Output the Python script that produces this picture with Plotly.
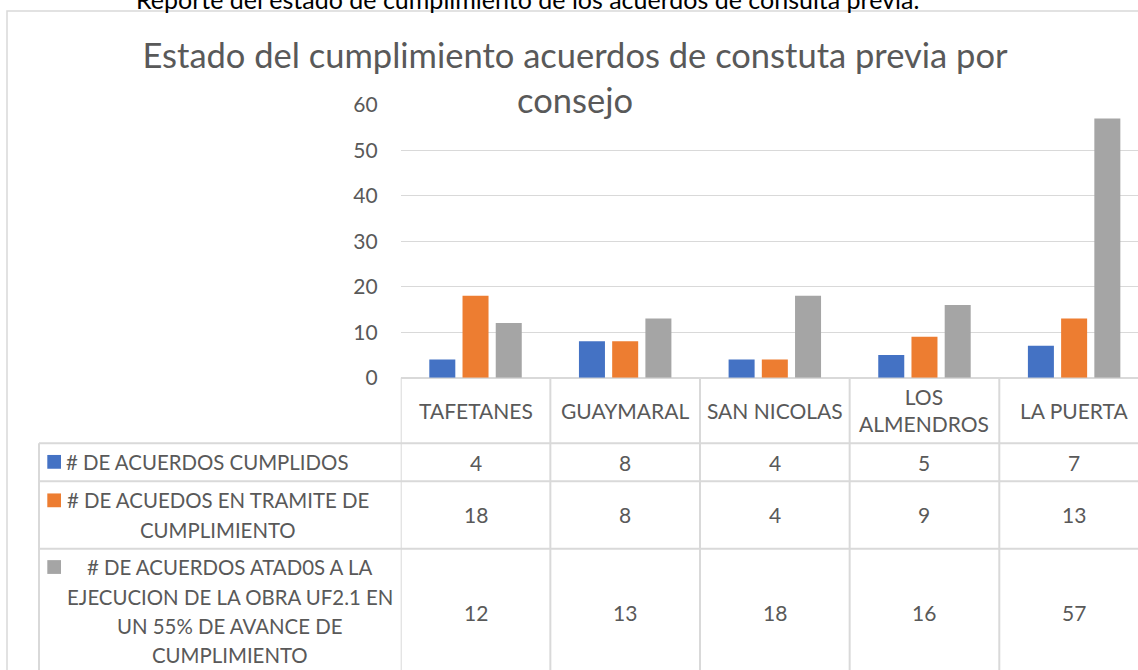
import plotly.graph_objects as go

# ---------------- data ----------------
categories = ["TAFETANES", "GUAYMARAL", "SAN NICOLAS", "LOS ALMENDROS", "LA PUERTA"]
category_labels = ["TAFETANES", "GUAYMARAL", "SAN NICOLAS", "LOS<br>ALMENDROS", "LA PUERTA"]

cumplidos = [4, 8, 4, 5, 7]
en_tramite = [18, 8, 4, 9, 13]
atados_obra = [12, 13, 18, 16, 57]

series_names = [
    "# DE ACUERDOS CUMPLIDOS",
    "# DE ACUEDOS EN TRAMITE DE CUMPLIMIENTO",
    "# DE ACUERDOS ATAD0S A LA EJECUCION DE LA OBRA UF2.1 EN UN 55% DE AVANCE DE CUMPLIMIENTO",
]
series_table_lines = [
    ["# DE ACUERDOS CUMPLIDOS"],
    ["# DE ACUEDOS EN TRAMITE DE", "CUMPLIMIENTO"],
    ["# DE ACUERDOS ATAD0S A LA", "EJECUCION DE LA OBRA UF2.1 EN", "UN 55% DE AVANCE DE", "CUMPLIMIENTO"],
]
series_values = [cumplidos, en_tramite, atados_obra]
series_colors = ["#4472C4", "#ED7D31", "#A5A5A5"]

y_ticks = [0, 10, 20, 30, 40, 50, 60]

title_text = "Estado del cumplimiento acuerdos de constuta previa por<br>consejo"
heading_text = "Reporte del estado de cumplimiento de los acuerdos de consulta previa."

# ---------------- layout helpers ----------------
W, H = 1138, 670
# vertical calibration of the photographed page (measured)
OFF, SC = 13.5, 0.963

def px_x(p):
    return p / W

def px_y(s):
    f = (s - OFF) / SC
    return 1 - f / H

FONT = "Lato, 'Open Sans', sans-serif"
TXT = "#595959"
LINE = "#D9D9D9"

plot_left = 400.7
col_w = 149.65
y0_px, y60_px = 377.3, 104.3
x_range = [-0.5, -0.5 + (W - plot_left) / col_w]

xs = list(range(len(categories)))

fig = go.Figure()
for name, vals, col in zip(series_names, series_values, series_colors):
    fig.add_trace(go.Bar(x=xs, y=vals, name=name, marker=dict(color=col, line=dict(width=0)),
                         hovertext=categories, showlegend=False))

# table geometry (pixels)
table_left = 39
row_lines = [443, 481, 548.3]
row_centers = [462, 514.6, 611.7]
row_first_line = [461.5, 500, 566.7]
row_text_center_x = [207, 218, 229.5]
line_step = 29.5
header_center = 410
bottom = 720

shapes = []
# chart border
shapes.append(dict(type="rect", xref="paper", yref="paper",
                   x0=px_x(7), x1=px_x(W + 20), y0=px_y(H + 40), y1=px_y(10.5),
                   line=dict(color=LINE, width=1.5), fillcolor="rgba(0,0,0,0)", layer="below"))
# horizontal table lines
for r in row_lines:
    shapes.append(dict(type="line", xref="paper", yref="paper",
                       x0=px_x(table_left), x1=px_x(W + 20), y0=px_y(r), y1=px_y(r),
                       line=dict(color=LINE, width=2)))
# table left border
shapes.append(dict(type="line", xref="paper", yref="paper",
                   x0=px_x(table_left), x1=px_x(table_left), y0=px_y(row_lines[0]), y1=px_y(bottom),
                   line=dict(color=LINE, width=2)))
# category separators
for i in range(len(categories)):
    shapes.append(dict(type="line", xref="x", yref="paper",
                       x0=i - 0.5, x1=i - 0.5, y0=px_y(y0_px), y1=px_y(bottom),
                       line=dict(color=LINE, width=2)))
# legend keys
for fl, col in zip(row_first_line, series_colors):
    shapes.append(dict(type="rect", xref="paper", yref="paper",
                       x0=px_x(47.3), x1=px_x(61), y0=px_y(fl + 6.9), y1=px_y(fl - 6.9),
                       line=dict(width=0), fillcolor=col))

annotations = []
annotations.append(dict(text=heading_text, xref="paper", yref="paper", x=px_x(527), y=px_y(15.5),
                        xanchor="center", yanchor="bottom", showarrow=False,
                        font=dict(family=FONT, size=25, color="#000000")))
# category header labels
for i, lab in enumerate(category_labels):
    annotations.append(dict(text=lab, xref="x", yref="paper", x=i, y=px_y(header_center),
                            xanchor="center", yanchor="middle", showarrow=False,
                            font=dict(family=FONT, size=21, color=TXT)))
# series labels (line by line) + values
for s, (lines, vals) in enumerate(zip(series_table_lines, series_values)):
    for k, ln in enumerate(lines):
        annotations.append(dict(text=ln, xref="paper", yref="paper",
                                x=px_x(row_text_center_x[s]), y=px_y(row_first_line[s] + k * line_step),
                                xanchor="center", yanchor="middle", showarrow=False,
                                font=dict(family=FONT, size=20.4, color=TXT)))
    for i, v in enumerate(vals):
        annotations.append(dict(text=str(v), xref="x", yref="paper", x=i, y=px_y(row_centers[s]),
                                xanchor="center", yanchor="middle", showarrow=False,
                                font=dict(family=FONT, size=21, color=TXT)))

fig.update_layout(
    width=W, height=H, autosize=False,
    margin=dict(l=0, r=0, t=0, b=0),
    paper_bgcolor="white", plot_bgcolor="white",
    barmode="group", bargap=0.334, bargroupgap=0.217,
    title=dict(text=title_text, x=px_x(575), xanchor="center", y=px_y(79), yanchor="middle",
               font=dict(family=FONT, size=34.5, color=TXT)),
    xaxis=dict(domain=[px_x(plot_left), 1], range=x_range, showticklabels=False,
               showgrid=False, zeroline=False, showline=False, fixedrange=True),
    yaxis=dict(domain=[px_y(y0_px), px_y(y60_px)], range=[0, 60], tickvals=y_ticks,
               showgrid=True, gridcolor=LINE, gridwidth=1.3,
               zeroline=True, zerolinecolor=LINE, zerolinewidth=2,
               ticks="", ticklabelstandoff=22,
               tickfont=dict(family=FONT, size=21, color=TXT), fixedrange=True),
    shapes=shapes, annotations=annotations,
    font=dict(family=FONT, color=TXT),
)

post = (
    "document.documentElement.style.margin='0';"
    "document.documentElement.style.overflow='hidden';"
    "document.body.style.margin='0';"
    "document.body.style.overflow='hidden';"
    "var d=document.getElementById('{plot_id}');"
    "d.style.position='fixed';d.style.top='0px';d.style.left='0px';"
)
fig.write_html("out.html", config={"displayModeBar": False}, post_script=post)
